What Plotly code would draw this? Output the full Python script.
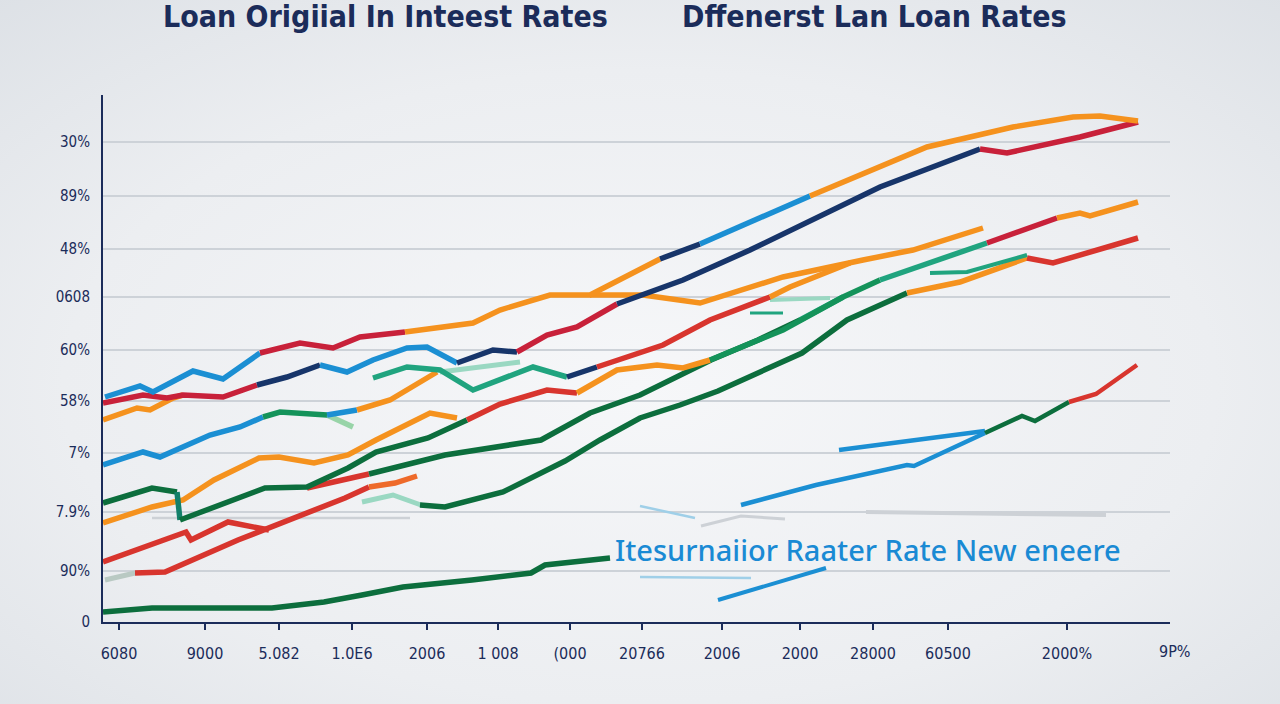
import base64
import plotly.graph_objects as go

# ---------------- data ----------------
x_ticks = [1.6, 10.2, 17.6, 24.9, 32.4, 39.5, 46.7, 53.9, 61.9, 69.7, 77.0, 84.5, 96.4]
x_labels = ["6080", "9000", "5.082", "1.0E6", "2006", "1 008", "(000", "20766",
            "2006", "2000", "28000", "60500", "2000%"]
x_last_label = "9P%"
y_ticks = [0, 5.1, 11.0, 16.9, 22.1, 27.2, 32.5, 37.3, 42.6, 48.0]
y_labels = ["0", "90%", "7.9%", "7%", "58%", "60%", "0608", "48%", "89%", "30%"]

s1_x = [0.2, 3.7, 5.0, 9.0, 12.0, 15.7, 19.7, 23.0, 25.7, 30.2, 37.0, 39.7, 44.7, 48.7, 55.7, 59.7, 70.7, 82.4, 91.0, 97.0, 99.7, 103.5]
s1_y = [22.5, 23.6, 23.0, 25.1, 24.3, 26.9, 27.9, 27.4, 28.5, 29.0, 29.9, 31.2, 32.7, 32.7, 36.3, 37.8, 42.6, 47.5, 49.5, 50.5, 50.6, 50.1]

s2_x = [0, 4.0, 6.4, 8.0, 12.0, 15.4, 18.4, 21.7, 24.4, 27.0, 30.4, 32.4, 35.4, 39.0, 41.4, 44.4, 47.4, 51.4, 58.0, 64.7, 77.7, 87.7, 90.4, 97.7, 103.5]
s2_y = [21.9, 22.7, 22.4, 22.7, 22.5, 23.7, 24.5, 25.7, 25.0, 26.2, 27.4, 27.5, 25.9, 27.2, 27.0, 28.7, 29.5, 31.8, 34.2, 37.2, 43.5, 47.3, 46.9, 48.5, 50.0]

s3_x = [0, 3.4, 4.7, 7.0, 8.0]
s3_y = [20.2, 21.4, 21.2, 22.4, 22.7]

s4_x = [0, 4.0, 5.7, 10.7, 13.7, 16.0, 17.7, 22.4, 25.4, 28.7, 33.4]
s4_y = [15.7, 17.0, 16.5, 18.7, 19.5, 20.5, 21.0, 20.7, 21.2, 22.2, 25.0]

hook_x = [22.4, 24.2, 25.0]
hook_y = [20.7, 19.9, 19.5]

s5_x = [27.0, 30.4, 33.7, 37.0, 43.0, 46.4, 49.4, 56.0, 60.7, 66.7, 68.7, 74.7]
s5_y = [24.4, 25.5, 25.2, 23.2, 25.5, 24.5, 25.5, 27.7, 30.2, 32.5, 33.5, 35.9]

pt_a_x = [33.7, 39.7, 41.7]
pt_a_y = [25.0, 25.8, 26.0]

s6_x = [48.7, 54.0, 59.7, 68.0, 76.0, 81.0, 88.0]
s6_y = [32.7, 32.7, 31.9, 34.5, 36.2, 37.2, 39.4]

g4_x = [0, 4.9, 7.4, 7.7]
g4_y = [11.9, 13.4, 13.0, 10.2]

s7_x = [7.7, 16.2, 20.4, 24.5, 27.3, 32.5, 36.4, 39.7, 44.4, 47.4, 51.4, 55.4, 58.0, 60.7, 68.0, 74.0, 77.7, 80.7, 88.4, 95.4, 97.7, 98.7, 103.5]
s7_y = [10.2, 13.4, 13.5, 15.4, 17.0, 18.4, 20.2, 21.8, 23.2, 22.9, 25.2, 25.7, 25.4, 26.2, 29.2, 32.5, 34.2, 35.2, 37.9, 40.4, 40.9, 40.6, 42.0]

s8_x = [20.4, 26.6, 34.2, 43.8, 48.7, 53.7, 60.8, 65.5, 69.7, 74.0]
s8_y = [13.4, 14.8, 16.7, 18.2, 20.9, 22.7, 26.2, 28.2, 30.2, 32.5]

g1_x = [31.7, 34.2, 40.0, 46.2, 49.7, 53.7, 57.7, 61.5, 69.9, 74.4, 80.4, 85.7, 92.4, 95.0, 103.5]
g1_y = [11.7, 11.5, 13.0, 16.1, 18.2, 20.4, 21.7, 23.1, 26.9, 30.2, 32.9, 34.0, 36.4, 35.9, 38.4]

ts_x = [82.7, 86.4, 92.4]
ts_y = [34.9, 35.0, 36.7]
pt_b_x = [66.7, 72.7]
pt_b_y = [32.2, 32.4]
tt_x = [64.7, 68.0]
tt_y = [30.9, 30.9]

o2_x = [0, 4.9, 8.0, 11.1, 15.6, 17.6, 21.1, 24.5, 27.3, 32.7, 35.4]
o2_y = [9.9, 11.5, 12.2, 14.2, 16.4, 16.5, 15.9, 16.7, 18.2, 20.9, 20.4]

r1_x = [0, 8.3, 8.8, 12.5, 16.6]
r1_y = [6.0, 9.0, 8.2, 10.0, 9.2]

r2_x = [3.2, 6.2, 13.5, 20.4, 24.2, 26.6, 29.2, 31.4]
r2_y = [4.9, 5.0, 8.2, 10.9, 12.4, 13.5, 13.9, 14.6]

stub_x = [0.2, 3.2]
stub_y = [4.2, 4.9]

pt_c_x = [25.9, 29.0, 31.8]
pt_c_y = [12.0, 12.7, 11.7]
gr_a_x = [4.9, 30.7]
gr_a_y = [10.4, 10.4]

b1_x = [73.6, 88.2]
b1_y = [17.2, 19.1]
b2_x = [63.8, 71.3, 80.4, 81.1, 88.2, 91.9, 93.2, 96.6, 99.3, 103.4]
b2_y = [11.7, 13.7, 15.7, 15.6, 18.9, 20.6, 20.1, 22.0, 22.8, 25.7]
b3_x = [61.5, 66.7, 72.3]
b3_y = [2.2, 3.7, 5.4]
pb_a_x = [53.7, 64.8]
pb_a_y = [4.5, 4.4]
pb_b_x = [53.7, 59.2]
pb_b_y = [11.6, 10.4]
gr_c_x = [59.8, 63.8, 68.2]
gr_c_y = [9.6, 10.6, 10.3]
gr_band_x = [76.3, 100.3]
gr_band_y = [11.0, 10.7]

g5_x = [0, 4.9, 16.9, 22.1, 25.9, 30.0, 36.9, 42.8, 44.2, 46.3, 50.7]
g5_y = [1.0, 1.4, 1.4, 2.0, 2.7, 3.5, 4.2, 4.9, 5.7, 5.9, 6.4]

title_left = "Loan Origiial In Inteest Rates"
title_right = "Dffenerst Lan Loan Rates"
note_text = "Itesurnaiior Raater Rate New eneere"

# ---------------- styles ----------------
ORANGE = "#f5921e"
RED = "#c8213a"
RED2 = "#d8352e"
NAVY = "#17356a"
BLUE = "#1b8fd3"
DGREEN = "#0c6e3d"
MGREEN = "#14935a"
TEAL = "#20a47f"
PTEAL = "#9ad8c2"
PGREEN = "#98d4a8"
GRAY = "#cdd1d6"
PBLUE = "#9fcfe8"
NAVY_TXT = "#1b2c5a"
LW = 5.5

faint = [
    (gr_a_x, gr_a_y, [(0, 1, GRAY)], 2.5),
    (gr_band_x, gr_band_y, [(0, 1, GRAY)], 4),
    (gr_c_x, gr_c_y, [(0, 2, GRAY)], 3),
    (pb_a_x, pb_a_y, [(0, 1, PBLUE)], 2.5),
    (pb_b_x, pb_b_y, [(0, 1, PBLUE)], 2.5),
    (stub_x, stub_y, [(0, 1, "#b9c9c3")], 5),
    (pt_c_x, pt_c_y, [(0, 2, PTEAL)], 5),
    (pt_a_x, pt_a_y, [(0, 2, PTEAL)], 5),
    (pt_b_x, pt_b_y, [(0, 1, PTEAL)], 4),
]

strands = [
    (g5_x, g5_y, [(0, 10, DGREEN)], LW),
    (b3_x, b3_y, [(0, 2, BLUE)], 4),
    (b1_x, b1_y, [(0, 1, BLUE)], 4.5),
    (b2_x, b2_y, [(0, 4, BLUE), (4, 7, DGREEN), (7, 9, RED2)], 4.5),
    (r1_x, r1_y, [(0, 4, RED2)], LW),
    (r2_x, r2_y, [(0, 5, RED2), (5, 7, "#ee6a2a")], LW),
    (o2_x, o2_y, [(0, 10, ORANGE)], LW),
    (g4_x, g4_y, [(0, 2, DGREEN), (2, 3, "#13806a")], LW),
    (g1_x, g1_y, [(0, 10, DGREEN), (10, 12, ORANGE), (12, 14, RED2)], LW),
    (s8_x, s8_y, [(0, 1, RED2), (1, 8, DGREEN), (8, 9, TEAL)], LW),
    (s7_x, s7_y, [(0, 6, DGREEN), (6, 9, RED2), (9, 13, ORANGE), (13, 16, MGREEN),
                  (16, 18, TEAL), (18, 19, RED), (19, 22, ORANGE)], LW),
    (ts_x, ts_y, [(0, 2, TEAL)], 4),
    (tt_x, tt_y, [(0, 1, TEAL)], 3),
    (s6_x, s6_y, [(0, 6, ORANGE)], LW),
    (hook_x, hook_y, [(0, 2, PGREEN)], LW),
    (s4_x, s4_y, [(0, 5, BLUE), (5, 7, MGREEN), (7, 8, BLUE), (8, 10, ORANGE)], LW),
    (s5_x, s5_y, [(0, 5, TEAL), (5, 6, NAVY), (6, 9, RED2), (9, 11, ORANGE)], LW),
    (s3_x, s3_y, [(0, 4, ORANGE)], LW),
    (s2_x, s2_y, [(0, 5, RED), (5, 7, NAVY), (7, 12, BLUE), (12, 14, NAVY),
                  (14, 17, RED), (17, 21, NAVY), (21, 24, RED)], LW),
    (s1_x, s1_y, [(0, 5, BLUE), (5, 9, RED), (9, 14, ORANGE), (14, 15, NAVY),
                  (15, 16, BLUE), (16, 21, ORANGE)], LW),
]

fig = go.Figure()

for xs, ys, segs, w in faint + strands:
    for i0, i1, col in segs:
        fig.add_trace(go.Scatter(
            x=xs[i0:i1 + 1], y=ys[i0:i1 + 1], mode="lines",
            line=dict(color=col, width=w), hoverinfo="skip", showlegend=False))

# plot area spans 103..1170 px horizontally and 95..622 px vertically
PW, PH = 1067.0, 527.0
fig.add_annotation(x=76.5, y=7.3, xref="x", yref="y", text=note_text, showarrow=False,
                   font=dict(family="Noto Sans, Open Sans, sans-serif", size=29,
                             color="#1a8ad4", weight=500))
fig.add_annotation(x=(1175 - 103) / PW, y=0, xref="paper", yref="paper", text=x_last_label,
                   showarrow=False, yanchor="middle", yshift=-29, xanchor="center",
                   font=dict(family="Liberation Sans Narrow, DejaVu Sans Condensed, sans-serif",
                             size=16, color=NAVY_TXT))

TFONT = dict(family="Liberation Sans Narrow, DejaVu Sans Condensed, Arial Narrow, sans-serif",
             size=30, color=NAVY_TXT, weight="bold")
fig.add_annotation(x=(385 - 103) / PW, y=(622 - 16) / PH, xref="paper", yref="paper",
                   text=title_left, showarrow=False, font=TFONT,
                   xanchor="center", yanchor="middle")
fig.add_annotation(x=(874 - 103) / PW, y=(622 - 16) / PH, xref="paper", yref="paper",
                   text=title_right, showarrow=False, font=TFONT,
                   xanchor="center", yanchor="middle")

# soft radial background (light centre, greyer edges)
bg_svg = (
    '<svg xmlns="http://www.w3.org/2000/svg" width="1280" height="704">'
    '<defs><radialGradient id="g" cx="0.5" cy="0.55" r="0.75">'
    '<stop offset="0" stop-color="#f6f7f9"/><stop offset="0.6" stop-color="#eceef1"/>'
    '<stop offset="1" stop-color="#dde1e6"/></radialGradient></defs>'
    '<rect width="1280" height="704" fill="url(#g)"/></svg>'
)
bg_src = "data:image/svg+xml;base64," + base64.b64encode(bg_svg.encode()).decode()

fig.update_layout(
    width=1280, height=704,
    margin=dict(l=103, r=110, t=95, b=82),
    paper_bgcolor="#eceff2", plot_bgcolor="rgba(0,0,0,0)",
    showlegend=False,
    images=[dict(source=bg_src, xref="paper", yref="paper",
                 x=-103 / PW, y=622 / PH, sizex=1280 / PW, sizey=704 / PH,
                 xanchor="left", yanchor="top", sizing="stretch", layer="below")],
    xaxis=dict(range=[0, 106.7], tickvals=x_ticks, ticktext=x_labels, showgrid=False,
               zeroline=False, showline=True, linecolor=NAVY_TXT, linewidth=2,
               ticks="outside", ticklen=6, tickcolor=NAVY_TXT, tickwidth=1.5,
               ticklabelstandoff=10,
               tickfont=dict(family="Liberation Sans Narrow, DejaVu Sans Condensed, sans-serif",
                             size=16, color=NAVY_TXT)),
    yaxis=dict(range=[0, 52.7], tickvals=y_ticks, ticktext=y_labels, showgrid=True,
               gridcolor="#cdd2d8", gridwidth=1.5, zeroline=False, showline=True,
               linecolor=NAVY_TXT, linewidth=2, ticks="", ticklabelstandoff=8,
               tickfont=dict(family="Liberation Sans Narrow, DejaVu Sans Condensed, sans-serif",
                             size=15, color=NAVY_TXT)),
)

fig.write_html("out.html")
